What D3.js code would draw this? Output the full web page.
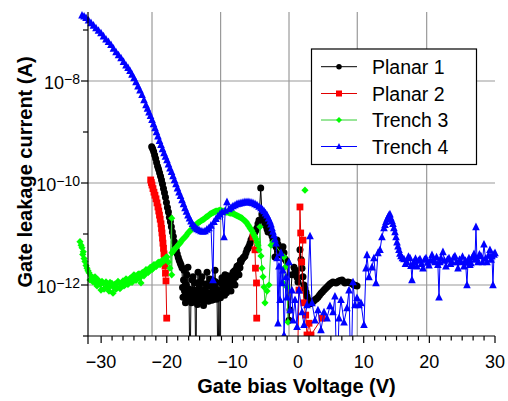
<!DOCTYPE html>
<html>
<head>
<meta charset="utf-8">
<script src="https://cdn.jsdelivr.net/npm/d3@7"></script>
<style>
  html, body { margin: 0; padding: 0; background: #fff; }
  svg { display: block; font-family: "Liberation Sans", Arial, Helvetica, sans-serif; }
</style>
</head>
<body>
<svg id="chart" width="508" height="401"></svg>
<script>
// ---------------- DATA (gate bias V, log10 of gate leakage current in A) ----------------
// null = break in the line; values of -14 lie below the axis (current off-scale / not positive)
const seriesNames = ["Planar 1", "Planar 2", "Trench 3", "Trench 4"];

const planar1 = [
  [-22.30,-9.29],[-22.15,-9.33],[-22.00,-9.38],[-21.85,-9.45],[-21.70,-9.52],[-21.55,-9.60],
  [-21.40,-9.67],[-21.25,-9.73],[-21.10,-9.80],[-20.95,-9.87],[-20.80,-9.94],[-20.65,-10.02],
  [-20.50,-10.11],[-20.35,-10.19],[-20.20,-10.28],[-20.05,-10.38],[-19.90,-10.48],[-19.75,-10.57],
  [-19.60,-10.67],[-19.45,-10.76],[-19.30,-10.86],[-19.15,-10.96],[-19.00,-11.05],[-18.85,-11.15],
  [-18.70,-11.24],[-18.55,-11.32],[-18.40,-11.39],[-18.25,-11.46],[-18.10,-11.52],[-17.95,-11.57],
  [-17.83,-11.61],[-17.68,-11.66],[-17.60,-12.05],[-17.53,-12.24],[-17.45,-11.90],[-17.38,-11.71],
  [-17.30,-12.12],[-17.22,-12.02],[-17.15,-12.35],[-17.07,-12.29],[-17.00,-12.00],[-16.92,-11.80],
  [-16.85,-12.20],[-16.77,-11.65],[-16.70,-12.30],[-16.62,-12.08],[-16.46,-14],[-16.31,-12.16],
  [-16.23,-12.35],[-16.16,-11.90],[-16.08,-12.22],[-16.00,-11.84],[-15.92,-12.30],[-15.85,-12.10],
  [-15.78,-11.95],[-15.70,-12.25],[-15.55,-14],[-15.48,-12.20],[-15.40,-11.96],[-15.32,-12.38],
  [-15.24,-11.75],[-15.17,-12.15],[-15.09,-12.06],[-15.02,-12.30],[-14.94,-12.24],[-14.87,-11.95],
  [-14.79,-11.92],[-14.71,-12.28],[-14.63,-11.84],[-14.56,-12.20],[-14.48,-12.12],[-14.40,-12.40],
  [-14.33,-12.33],[-14.22,-12.10],[-14.10,-11.98],[-13.98,-12.25],[-13.87,-11.75],[-13.80,-12.15],
  [-13.72,-12.02],[-13.65,-12.32],[-13.57,-12.18],[-13.50,-12.00],[-13.42,-11.88],[-13.34,-12.24],
  [-13.26,-11.96],[-13.18,-12.30],[-13.11,-12.14],[-13.04,-12.00],[-12.96,-12.29],[-12.88,-12.10],
  [-12.81,-11.92],[-12.73,-12.22],[-12.65,-11.71],[-12.58,-12.05],[-12.50,-11.94],[-12.42,-12.28],
  [-12.35,-12.10],[-12.20,-14],[-12.05,-12.20],[-11.89,-14],[-11.82,-12.25],[-11.74,-11.96],
  [-11.66,-12.18],[-11.59,-11.86],[-11.51,-12.05],[-11.44,-12.16],[-11.36,-11.92],[-11.28,-12.02],
  [-11.20,-12.20],[-11.13,-11.80],[-11.05,-12.10],[-10.98,-11.90],[-10.90,-12.15],[-10.83,-12.04],
  [-10.75,-11.82],[-10.67,-11.94],[-10.60,-12.10],[-10.52,-11.86],[-10.45,-12.05],[-10.37,-11.98],
  [-10.30,-11.84],[-10.22,-12.12],[-10.15,-11.95],[-10.07,-11.90],[-9.99,-11.80],[-9.91,-11.75],
  [-9.84,-11.95],[-9.76,-11.86],[-9.68,-11.72],[-9.61,-12.00],[-9.53,-11.85],[-9.46,-11.78],
  [-9.38,-11.68],[-9.30,-11.63],[-9.22,-11.75],[-9.15,-11.70],[-9.07,-11.62],[-9.00,-11.80],
  [-8.92,-11.60],[-8.85,-11.66],[-8.77,-11.52],[-8.69,-11.55],
  [-8.54,-11.50],[-8.39,-11.47],[-8.24,-11.45],[-8.09,-11.43],[-7.93,-11.37],[-7.78,-11.31],
  [-7.63,-11.28],[-7.48,-11.24],[-7.32,-11.18],[-7.17,-11.12],[-7.02,-11.08],[-6.87,-11.04],
  [-6.71,-11.00],[-6.56,-10.96],[-6.41,-10.92],[-6.26,-10.88],[-6.11,-10.80],[-5.95,-10.73],
  [-5.69,-10.10],[-5.50,-10.61],[-5.35,-10.67],[-5.19,-10.73],[-5.04,-10.79],[-4.89,-10.84],
  [-4.73,-10.90],[-4.58,-10.96],[-4.43,-10.94],[-4.28,-10.92],[-4.12,-10.98],[-3.97,-11.04],
  [-3.82,-11.12],[-3.67,-11.20],[-3.52,-11.45],[-3.36,-11.25],[-3.21,-11.12],[-3.06,-11.20],
  [-2.91,-11.27],[-2.75,-11.34],[-2.60,-11.41],[-2.45,-11.33],[-2.30,-11.25],[-2.14,-11.37],
  [-1.99,-11.49],[-1.84,-11.52],[-1.69,-11.55],[-1.38,-12.69],[-1.23,-12.49],[-0.93,-11.80],
  [-0.62,-11.65],[-0.47,-11.70],[-0.32,-11.75],[-0.16,-11.85],[-0.01,-11.94],[0.29,-11.31],
  [0.45,-11.50],[0.60,-11.67],[0.75,-11.84],[0.90,-12.00],[1.05,-12.07],[1.21,-12.14],
  [1.36,-12.22],[1.51,-12.29],[1.67,-12.33],[1.82,-12.37],[1.97,-12.36],[2.12,-12.35],
  [2.35,-12.32],[2.58,-12.29],[2.80,-12.27],[3.03,-12.24],[3.26,-12.20],[3.49,-12.16],
  [3.72,-12.13],[3.95,-12.10],[4.18,-12.07],[4.41,-12.04],[4.64,-12.01],[4.86,-11.98],
  [5.09,-11.96],[5.32,-11.94],[5.55,-11.95],[5.78,-11.96],[6.00,-11.94],[6.23,-11.92],
  [6.46,-11.91],[6.69,-11.90],[6.92,-11.93],[7.15,-11.96],[7.38,-11.95],[7.60,-11.94],
  [7.83,-11.95],[8.06,-11.96],[8.29,-11.98],[8.52,-12.00],[8.75,-12.01],[8.98,-12.02]
];

const planar2 = [
  [-22.45,-9.94],[-22.35,-9.99],[-22.25,-10.04],[-22.10,-10.11],[-21.95,-10.18],[-21.80,-10.24],
  [-21.64,-10.31],[-21.49,-10.39],[-21.34,-10.47],[-21.22,-10.55],[-21.11,-10.63],[-21.00,-10.71],
  [-20.88,-10.80],[-20.80,-10.89],[-20.73,-10.98],[-20.65,-11.08],[-20.58,-11.18],[-20.50,-11.28],
  [-20.42,-11.39],[-20.35,-11.51],[-20.27,-11.63],[-20.20,-11.77],[-20.12,-11.92],[-20.01,-12.65],
  null,
  [-6.87,-11.06],[-6.56,-11.31],[-6.49,-11.67],[-6.33,-11.96],[-6.30,-12.65],
  null,
  [-0.16,-14],[0.14,-12.10],[0.29,-10.47],[0.40,-10.98],[0.75,-11.12],[0.55,-11.55],
  [0.90,-12.35],[1.16,-12.59],[1.36,-12.98],[1.67,-12.75],[1.97,-12.98],[3.64,-12.65]
];

const trench3 = [
  [-33.22,-11.15],[-33.05,-11.22],[-32.91,-11.27],[-32.80,-11.40],[-32.72,-11.35],[-32.60,-11.48],
  [-32.46,-11.54],[-32.30,-11.62],[-32.15,-11.67],[-32.00,-11.72],[-31.85,-11.76],[-31.70,-11.90],
  [-31.54,-11.82],[-31.40,-11.88],[-31.24,-11.94],[-31.10,-11.86],[-30.93,-11.84],[-30.78,-11.97],
  [-30.63,-12.02],[-30.48,-11.90],[-30.32,-11.92],[-30.17,-11.99],[-30.02,-12.10],[-29.87,-11.93],
  [-29.72,-11.96],[-29.56,-12.08],[-29.41,-12.06],[-29.26,-11.94],[-29.11,-11.98],[-28.96,-12.05],
  [-28.80,-12.12],[-28.65,-11.95],[-28.50,-12.02],[-28.35,-11.97],[-28.19,-12.16],[-28.04,-12.03],
  [-27.89,-11.98],[-27.74,-12.08],[-27.58,-12.06],[-27.43,-11.93],[-27.28,-11.96],[-27.13,-12.07],
  [-26.97,-12.04],[-26.82,-11.95],[-26.67,-11.92],[-26.52,-12.02],[-26.36,-12.00],[-26.21,-11.88],
  [-26.06,-11.90],[-25.91,-11.99],[-25.75,-11.96],[-25.60,-11.87],[-25.45,-11.86],[-25.30,-11.95],
  [-25.15,-11.92],[-25.00,-11.80],[-24.84,-11.82],[-24.69,-11.91],[-24.54,-11.88],[-24.38,-11.79],
  [-24.23,-11.78],[-24.08,-11.86],[-23.93,-11.96],[-23.78,-11.76],[-23.62,-11.75],[-23.47,-11.82],
  [-23.32,-11.78],[-23.17,-11.70],[-23.01,-11.71],[-22.86,-11.76],[-22.71,-11.73],[-22.56,-11.66],
  [-22.40,-11.65],[-22.25,-11.70],[-22.10,-11.67],[-21.95,-11.60],[-21.79,-11.61],[-21.64,-11.64],
  [-21.49,-11.61],[-21.34,-11.56],[-21.18,-11.55],[-21.03,-11.60],[-20.88,-11.57],[-20.73,-11.52],
  [-20.58,-11.51],[-20.42,-11.53],[-20.27,-11.49],[-20.12,-11.46],[-19.97,-11.45],[-19.77,-11.55],
  [-19.51,-11.67],[-19.25,-10.69],[-19.25,-11.80],[-19.21,-11.37],[-19.05,-11.34],[-18.90,-11.31],
  [-18.75,-11.29],[-18.60,-11.27],[-18.45,-11.25],[-18.29,-11.22],[-18.14,-11.20],[-17.99,-11.18],
  [-17.84,-11.15],[-17.68,-11.12],[-17.53,-11.10],[-17.38,-11.08],[-17.22,-11.06],[-17.07,-11.04],
  [-16.92,-11.01],[-16.77,-10.98],[-16.62,-10.96],[-16.46,-10.94],[-16.31,-10.92],[-16.16,-10.90],
  [-16.00,-10.88],[-15.85,-10.86],[-15.70,-10.84],[-15.55,-10.82],[-15.40,-10.80],[-15.24,-10.78],
  [-15.09,-10.77],[-14.94,-10.76],[-14.79,-10.74],[-14.63,-10.73],[-14.48,-10.72],[-14.33,-10.71],
  [-14.18,-10.69],[-14.03,-10.67],[-13.87,-10.66],[-13.72,-10.65],[-13.57,-10.63],[-13.42,-10.61],
  [-13.26,-10.60],[-13.11,-10.59],[-12.96,-10.58],[-12.81,-10.57],[-12.65,-10.56],[-12.50,-10.55],
  [-12.35,-10.55],[-12.20,-10.55],[-12.05,-10.54],[-11.89,-10.53],[-11.74,-10.54],[-11.59,-10.55],
  [-11.44,-10.55],[-11.28,-10.55],[-11.13,-10.56],[-10.98,-10.57],[-10.83,-10.57],[-10.67,-10.57],
  [-10.52,-10.58],[-10.37,-10.59],[-10.22,-10.59],[-10.07,-10.59],[-9.91,-10.60],[-9.76,-10.61],
  [-9.61,-10.62],[-9.46,-10.63],[-9.30,-10.64],[-9.15,-10.65],[-9.00,-10.66],[-8.85,-10.67],
  [-8.69,-10.68],[-8.54,-10.69],[-8.39,-10.71],[-8.24,-10.73],[-8.09,-10.74],[-7.93,-10.76],
  [-7.78,-10.79],[-7.63,-10.82],[-7.48,-10.85],[-7.32,-10.88],[-7.17,-10.91],[-7.02,-10.94],
  [-6.87,-10.98],[-6.71,-11.02],[-6.56,-11.06],[-6.41,-11.10],[-6.26,-11.16],[-6.11,-11.22],
  [-5.95,-11.31],[-5.80,-10.86],[-5.65,-11.43],[-5.50,-11.67],[-5.34,-11.84],[-5.19,-12.04],
  [-5.04,-12.35],[-4.73,-12.12],[-4.43,-12.00],[-4.12,-11.22],[-3.82,-11.16],[-2.14,-11.45],
  [-1.99,-11.65],[-2.30,-11.96],[-1.69,-12.04],[-1.53,-12.73],
  null,
  [1.05,-10.14]
];

const trench4 = [
  [-32.91,-6.71],[-32.60,-6.73],[-32.30,-6.76],[-31.92,-6.81],[-31.54,-6.86],[-31.16,-6.91],
  [-30.78,-6.96],[-30.40,-7.01],[-30.02,-7.06],[-29.64,-7.12],[-29.26,-7.18],[-28.88,-7.23],
  [-28.50,-7.29],[-28.12,-7.36],[-27.73,-7.43],[-27.35,-7.49],[-26.97,-7.55],[-26.59,-7.62],
  [-26.21,-7.69],[-25.90,-7.74],[-25.60,-7.80],[-25.30,-7.87],[-24.99,-7.94],[-24.69,-8.02],
  [-24.38,-8.10],[-24.08,-8.18],[-23.77,-8.27],[-23.47,-8.37],[-23.17,-8.47],[-22.94,-8.54],
  [-22.71,-8.61],[-22.48,-8.68],[-22.25,-8.76],[-22.02,-8.84],[-21.79,-8.92],[-21.57,-9.00],
  [-21.34,-9.08],[-21.11,-9.17],[-20.88,-9.25],[-20.65,-9.33],[-20.42,-9.41],[-20.20,-9.48],
  [-19.97,-9.55],[-19.74,-9.63],[-19.51,-9.71],[-19.28,-9.78],[-19.05,-9.86],[-18.83,-9.94],
  [-18.60,-10.02],[-18.37,-10.10],[-18.14,-10.18],[-17.91,-10.25],[-17.68,-10.33],[-17.45,-10.41],
  [-17.22,-10.49],[-17.00,-10.56],[-16.77,-10.63],[-16.54,-10.69],[-16.31,-10.75],[-16.08,-10.80],
  [-15.85,-10.84],[-15.62,-10.87],[-15.40,-10.90],[-15.10,-10.92],[-14.79,-10.94],[-14.49,-10.95],
  [-14.18,-10.94],[-13.88,-10.91],[-13.57,-10.88],[-13.27,-10.83],[-12.96,-11.90],[-12.81,-10.76],
  [-12.50,-10.70],[-12.20,-10.65],[-11.90,-10.61],[-11.59,-10.57],[-11.28,-11.06],[-11.10,-10.54],
  [-10.83,-10.37],[-10.52,-10.51],[-10.20,-10.48],[-9.91,-10.45],[-9.60,-10.43],[-9.30,-10.41],
  [-9.00,-10.40],[-8.69,-10.39],[-8.39,-10.38],[-8.09,-10.37],[-7.78,-10.37],[-7.48,-10.37],
  [-7.17,-10.38],[-6.87,-10.39],[-6.56,-10.41],[-6.26,-10.43],[-5.95,-10.46],[-5.65,-10.49],
  [-5.42,-10.52],[-5.19,-10.55],[-4.96,-10.59],[-4.73,-10.63],[-4.50,-10.69],[-4.28,-10.75],
  [-4.12,-10.81],[-3.97,-10.88],[-3.82,-10.95],[-3.67,-11.02],[-3.52,-11.10],[-3.36,-11.18],
  [-3.21,-11.47],[-3.06,-12.75],[-2.91,-11.63],[-2.75,-12.29],[-2.60,-11.37],[-2.45,-11.96],
  [-2.30,-11.71],[-2.14,-12.98],[-1.84,-11.84],[-1.69,-12.24],[-1.38,-11.55],[-1.23,-12.49],
  [-0.93,-12.10],[-0.77,-12.69],[-0.47,-12.29],[-0.16,-12.82],[0.14,-12.10],[0.60,-12.53],
  [0.90,-12.78],[1.36,-12.39],[1.82,-11.04],[2.12,-12.35],[2.58,-12.69],[3.03,-12.49],
  [3.49,-12.88],[3.95,-12.53],[4.41,-12.65],[4.86,-12.41],[5.32,-12.53],[5.62,-12.22],
  [5.93,-14],[6.23,-12.65],[6.54,-12.29],[7.00,-12.73],[7.45,-12.45],[7.76,-12.10],
  [8.06,-14],[8.37,-11.94],[8.67,-12.39],[8.98,-12.25],[9.28,-12.39],[9.58,-12.35],
  [10.04,-12.78],[10.35,-11.67],[10.50,-11.41],[10.80,-11.84],[11.26,-11.65],[11.56,-11.47],
  [11.87,-11.96],[12.17,-11.37],[12.48,-11.31],[12.78,-11.06],[13.09,-10.88],[13.25,-10.82],
  [13.39,-10.76],[13.55,-10.71],[13.70,-10.67],[13.85,-10.63],[14.00,-10.61],[14.15,-10.69],
  [14.30,-10.74],[14.46,-10.80],[14.60,-10.88],[14.76,-10.96],[14.92,-11.06],[15.07,-11.16],
  [15.22,-11.24],[15.37,-11.31],[15.52,-11.38],[15.68,-11.43],[15.90,-11.47],[16.13,-11.49],
  [16.36,-11.58],[16.59,-11.55],[16.82,-11.44],[17.05,-11.47],[17.20,-11.62],[17.35,-11.90],
  [17.50,-11.60],[17.66,-11.55],[17.89,-11.48],[18.11,-11.63],[18.34,-11.52],[18.57,-11.49],
  [18.80,-11.58],[19.03,-11.67],[19.26,-11.50],[19.49,-11.47],[19.72,-11.56],[19.94,-11.61],
  [20.17,-11.52],[20.40,-11.41],[20.63,-11.50],[20.86,-11.55],[21.10,-11.45],[21.30,-11.60],
  [21.47,-12.24],[21.62,-11.55],[21.77,-11.47],[22.07,-11.35],[22.30,-11.52],[22.53,-11.63],
  [22.76,-11.50],[22.99,-11.47],[23.22,-11.58],[23.45,-11.55],[23.68,-11.46],[23.90,-11.43],
  [24.13,-11.55],[24.36,-11.67],[24.59,-11.50],[24.82,-11.55],[25.05,-11.44],[25.27,-11.63],
  [25.50,-11.52],[25.73,-12.00],[25.88,-11.56],[26.03,-11.47],[26.18,-11.60],[26.34,-11.57],
  [26.57,-11.45],[26.80,-11.39],[26.95,-11.50],[27.10,-10.86],[27.25,-11.48],[27.41,-11.55],
  [27.63,-11.40],[27.86,-11.43],[28.09,-11.55],[28.32,-11.20],[28.55,-11.48],[28.78,-11.55],
  [29.00,-11.42],[29.23,-11.31],[29.40,-11.50],[29.54,-11.43],[29.69,-12.00],[29.85,-11.40],
  [30.00,-11.37]
];

// axes
const xTickValues = [-30, -20, -10, 0, 10, 20, 30];
const xGridValues = [-22.25, -11.8, -1.38, 9.02, 19.59];
const yLabelExponents = [-8, -10, -12];
const yMinorExponents = [-7, -9, -11, -13];
const xTitle = "Gate bias Voltage (V)";
const yTitle = "Gate leakage current (A)";

// ---------------- DRAWING ----------------
const svg = d3.select("#chart");
const x = d3.scaleLinear().domain([-32, 30]).range([88, 495]);
const y = d3.scaleLog().domain([1e-13, Math.pow(10, -6.647)]).range([336, 12]);
const FONT = '"Liberation Sans", Arial, Helvetica, sans-serif';

const styles = [
  {data: planar1, line: "#000000", fill: "#000000", shape: "circle"},
  {data: planar2, line: "#e00000", fill: "#ff0000", shape: "square"},
  {data: trench3, line: "#33cc33", fill: "#00ff00", shape: "diamond"},
  {data: trench4, line: "#0000ff", fill: "#0000ff", shape: "triangle"}
];

// gridlines
const grid = svg.append("g").attr("stroke", "#9a9a9a").attr("stroke-width", 1.2);
grid.selectAll("line.v").data(xGridValues).join("line")
  .attr("x1", d => x(d)).attr("x2", d => x(d))
  .attr("y1", y.range()[1]).attr("y2", y.range()[0]);
grid.selectAll("line.h").data(yLabelExponents).join("line")
  .attr("x1", x.range()[0]).attr("x2", x.range()[1])
  .attr("y1", d => y(Math.pow(10, d))).attr("y2", d => y(Math.pow(10, d)));

// clip for data
svg.append("defs").append("clipPath").attr("id", "clip")
  .append("rect").attr("x", 0).attr("y", 0).attr("width", 508).attr("height", 336);

const plot = svg.append("g").attr("clip-path", "url(#clip)");

function shapePath(shape, s) {
  const h = s / 2;
  if (shape === "square") return `M${-h},${-h}h${s}v${s}h${-s}Z`;
  if (shape === "diamond") return `M0,${-h}L${h},0L0,${h}L${-h},0Z`;
  if (shape === "triangle") return `M0,${-h - 0.5}L${h},${h - 0.5}L${-h},${h - 0.5}Z`;
  return d3.symbol(d3.symbolCircle, Math.PI * h * h)();
}
const sizes = {circle: 7, square: 6.8, diamond: 7.2, triangle: 7.6};

const line = d3.line()
  .defined(d => d !== null)
  .x(d => x(d[0]))
  .y(d => y(Math.pow(10, d[1])));

styles.forEach(st => {
  plot.append("path").datum(st.data)
    .attr("d", line).attr("fill", "none")
    .attr("stroke", st.line).attr("stroke-width", 1);
  plot.append("g").selectAll("path").data(st.data.filter(d => d !== null)).join("path")
    .attr("transform", d => `translate(${x(d[0])},${y(Math.pow(10, d[1]))})`)
    .attr("d", shapePath(st.shape, sizes[st.shape]))
    .attr("fill", st.fill);
});

// axes lines
const ax = svg.append("g").attr("stroke", "#000").attr("stroke-width", 1.2);
ax.append("line").attr("x1", 88).attr("x2", 88).attr("y1", 12).attr("y2", 344);
ax.append("line").attr("x1", 88).attr("x2", 495).attr("y1", 336).attr("y2", 336);
// x ticks
ax.selectAll("line.xmaj").data(xTickValues).join("line")
  .attr("x1", d => x(d)).attr("x2", d => x(d)).attr("y1", 336).attr("y2", 343);
const minorX = d3.range(-30, 30.001, 10 / 6).filter(v => !xTickValues.some(t => Math.abs(t - v) < 0.01));
ax.selectAll("line.xmin").data(minorX).join("line")
  .attr("x1", d => x(d)).attr("x2", d => x(d)).attr("y1", 336).attr("y2", 340.5);
// y ticks
ax.selectAll("line.ymaj").data(yLabelExponents).join("line")
  .attr("x1", 81).attr("x2", 88)
  .attr("y1", d => y(Math.pow(10, d))).attr("y2", d => y(Math.pow(10, d)));
ax.selectAll("line.ymin").data(yMinorExponents).join("line")
  .attr("x1", 83).attr("x2", 88)
  .attr("y1", d => y(Math.pow(10, d))).attr("y2", d => y(Math.pow(10, d)));

// tick labels
svg.append("g").selectAll("text").data(xTickValues).join("text")
  .attr("x", d => x(d)).attr("y", 367.5)
  .attr("text-anchor", "middle").attr("font-size", 18).attr("font-family", FONT)
  .text(d => d < 0 ? "\u2212" + Math.abs(d) : String(d));

const yl = svg.append("g").selectAll("text").data(yLabelExponents).join("text")
  .attr("x", 80).attr("y", d => y(Math.pow(10, d)) + 8)
  .attr("text-anchor", "end").attr("font-family", FONT);
yl.append("tspan").attr("font-size", 18).text("10");
yl.append("tspan").attr("font-size", 14).attr("dy", -5).text(d => "\u2212" + Math.abs(d));

// axis titles
svg.append("text").attr("x", 296.5).attr("y", 393)
  .attr("text-anchor", "middle").attr("font-size", 20).attr("font-weight", "bold")
  .attr("font-family", FONT).text(xTitle);
svg.append("text").attr("transform", "translate(31.5,172) rotate(-90)")
  .attr("text-anchor", "middle").attr("font-size", 20).attr("font-weight", "bold")
  .attr("font-family", FONT).text(yTitle);

// legend
const lg = svg.append("g");
lg.append("rect").attr("x", 311.5).attr("y", 49).attr("width", 165).attr("height", 115.5)
  .attr("fill", "#fff").attr("stroke", "#000").attr("stroke-width", 1.2);
const legY = [66.7, 93.5, 120, 146.5];
const legSizes = {circle: 5.5, square: 6, diamond: 6, triangle: 6};
seriesNames.forEach((name, i) => {
  const st = styles[i];
  lg.append("line").attr("x1", 321).attr("x2", 357).attr("y1", legY[i]).attr("y2", legY[i])
    .attr("stroke", st.line).attr("stroke-width", 1);
  lg.append("path").attr("transform", `translate(339,${legY[i]})`)
    .attr("d", shapePath(st.shape, legSizes[st.shape])).attr("fill", st.fill);
  lg.append("text").attr("x", 372).attr("y", legY[i] + 7)
    .attr("font-size", 19.5).attr("font-family", FONT).text(name);
});
</script>
</body>
</html>
